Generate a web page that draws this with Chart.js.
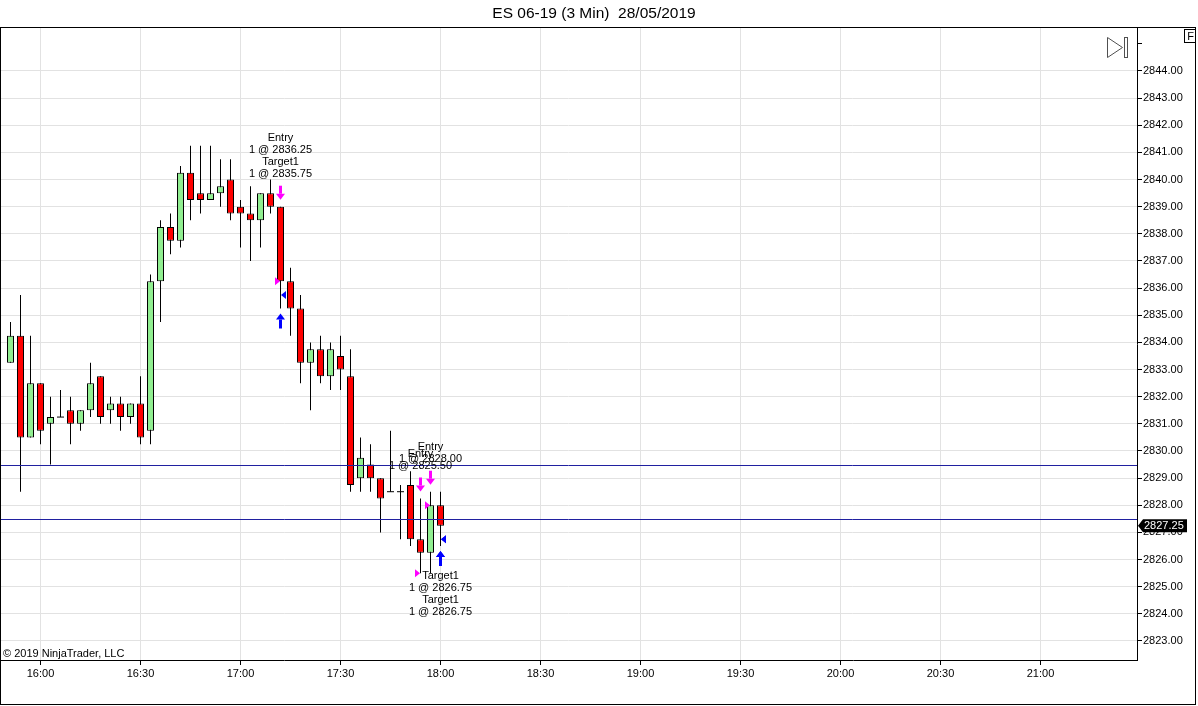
<!DOCTYPE html>
<html>
<head>
<meta charset="utf-8">
<title>ES 06-19 (3 Min) 28/05/2019</title>
<script src="https://cdn.jsdelivr.net/npm/chart.js@4.4.1/dist/chart.umd.min.js"></script>
<style>
  html, body { margin: 0; padding: 0; background: #fff; }
  canvas { display: block; }
</style>
</head>
<body>
<canvas id="grafico" width="1198" height="706"></canvas>
<script>
// barras de 3 minutos (horario de fechamento)
const horarios = [
  "15:51", "15:54", "15:57", "16:00", "16:03", "16:06", "16:09", "16:12", "16:15", "16:18", "16:21",
  "16:24", "16:27", "16:30", "16:33", "16:36", "16:39", "16:42", "16:45", "16:48", "16:51", "16:54",
  "16:57", "17:00", "17:03", "17:06", "17:09", "17:12", "17:15", "17:18", "17:21", "17:24", "17:27",
  "17:30", "17:33", "17:36", "17:39", "17:42", "17:45", "17:48", "17:51", "17:54", "17:57", "18:00",
];
const aberturas = [
  2833.25, 2834.25, 2830.5, 2832.5, 2831, 2831.25, 2831.5, 2831, 2831.5, 2832.75, 2831.5,
  2831.75, 2831.25, 2831.75, 2830.75, 2836.25, 2838.25, 2837.75, 2840.25, 2839.5, 2839.25, 2839.5,
  2840, 2839, 2838.75, 2838.5, 2839.5, 2839, 2836.25, 2835.25, 2833.25, 2833.75, 2832.75,
  2833.5, 2832.75, 2829, 2829.5, 2829, 2828.5, 2828.5, 2828.75, 2826.75, 2826.25, 2828,
];
const maximas = [
  2834.75, 2835.75, 2834.25, 2832.5, 2832, 2832.25, 2832, 2831.5, 2833.25, 2832.75, 2832,
  2832, 2831.75, 2832.75, 2836.5, 2838.5, 2838.75, 2840.5, 2841.25, 2841.25, 2841.25, 2840.75,
  2840.75, 2839.25, 2839.75, 2839.5, 2840, 2839, 2836.75, 2835.75, 2834, 2834.25, 2834,
  2834.25, 2833.75, 2830.5, 2830.25, 2829, 2830.75, 2828.75, 2829.25, 2828.25, 2828.5, 2828.5,
];
const minimas = [
  2833.25, 2828.5, 2830.5, 2830.25, 2829.5, 2831.25, 2830.25, 2830.75, 2831.25, 2831, 2831,
  2830.75, 2831, 2830.25, 2830.25, 2834.75, 2837.25, 2837.5, 2838.5, 2838.75, 2839.25, 2839,
  2838.5, 2837.5, 2837, 2837.5, 2838.75, 2835.25, 2834.25, 2832.5, 2831.5, 2832.5, 2832.25,
  2832.25, 2828.5, 2828.5, 2828.5, 2827, 2828.5, 2826.75, 2826.5, 2825.5, 2825.5, 2826.5,
];
const fechamentos = [
  2834.25, 2830.5, 2832.5, 2830.75, 2831.25, 2831.25, 2831, 2831.5, 2832.5, 2831.25, 2831.75,
  2831.25, 2831.75, 2830.5, 2836.25, 2838.25, 2837.75, 2840.25, 2839.25, 2839.25, 2839.5, 2839.75,
  2838.75, 2838.75, 2838.5, 2839.5, 2839, 2836.25, 2835.25, 2833.25, 2833.75, 2832.75, 2833.75,
  2833, 2828.75, 2829.75, 2829, 2828.25, 2828.5, 2828.5, 2826.75, 2826.25, 2828, 2827.25,
];

const rotulosX = ["16:00", "16:30", "17:00", "17:30", "18:00", "18:30", "19:00", "19:30", "20:00", "20:30", "21:00"];
const niveis = [2829.5, 2827.5];

// execucoes
const execHorarios = ["17:12", "17:12", "17:54", "17:57", "18:00", "18:00"];
const execPrecos = [2836.25, 2835.75, 2825.5, 2828.0, 2826.75, 2826.75];
const execLados = ["sell", "buy", "sell", "sell", "buy", "buy"];
const execNomes = ["Entry", "Target1", "Entry", "Entry", "Target1", "Target1"];
const execQtd = [1, 1, 1, 1, 1, 1];

const fonte = "'Liberation Sans', Arial, sans-serif";
Chart.defaults.font.family = fonte;

const toMin = (s) => {
  const [h, m] = s.split(":").map(Number);
  return h * 60 + m;
};
const fmtHora = (v) => {
  const h = Math.floor(v / 60);
  const m = Math.round(v % 60);
  return String(h).padStart(2, "0") + ":" + String(m).padStart(2, "0");
};

const pavios = [];
const corpos = [];
const coresCorpo = [];
const dojis = [];
horarios.forEach((t, i) => {
  const x = toMin(t);
  pavios.push({ x, y: [minimas[i], maximas[i]] });
  if (aberturas[i] === fechamentos[i]) {
    dojis.push({ x, y: aberturas[i] });
  } else {
    corpos.push({ x, y: [aberturas[i], fechamentos[i]] });
    coresCorpo.push(fechamentos[i] > aberturas[i] ? "#90ee90" : "#ff0000");
  }
});

const pxPorMin = 10 / 3;
const xMin = 947.85;
const xMax = xMin + 1137 / pxPorMin;

const marcacoes = {
  id: "marcacoes",
  afterDatasetsDraw(chart) {
    const { ctx, chartArea, scales } = chart;
    const xs = scales.x;
    const ys = scales.y;
    ctx.save();
    ctx.beginPath();
    ctx.rect(chartArea.left, chartArea.top, chartArea.right - chartArea.left, chartArea.bottom - chartArea.top);
    ctx.clip();

    // linhas horizontais
    ctx.strokeStyle = "#2020a0";
    ctx.lineWidth = 1;
    niveis.forEach((n) => {
      const y = Math.round(ys.getPixelForValue(n)) + 0.5;
      ctx.beginPath();
      ctx.moveTo(chartArea.left, y);
      ctx.lineTo(chartArea.right, y);
      ctx.stroke();
    });

    // setas e triangulos
    execHorarios.forEach((t, i) => {
      const k = horarios.indexOf(t);
      const cx = xs.getPixelForValue(toMin(t));
      const yp = ys.getPixelForValue(execPrecos[i]);
      const venda = execLados[i] === "sell";
      ctx.fillStyle = venda ? "#ff00ff" : "#0000ff";

      ctx.beginPath();
      if (execNomes[i] === "Entry") {
        ctx.moveTo(cx - 5.5, yp - 4);
        ctx.lineTo(cx - 5.5, yp + 4);
        ctx.lineTo(cx - 0.5, yp);
      } else {
        ctx.moveTo(cx + 5.5, yp - 4);
        ctx.lineTo(cx + 5.5, yp + 4);
        ctx.lineTo(cx + 0.5, yp);
      }
      ctx.closePath();
      ctx.fill();

      if (venda) {
        const topo = ys.getPixelForValue(maximas[k]) - 21;
        ctx.fillRect(cx - 1.5, topo, 3, 8);
        ctx.beginPath();
        ctx.moveTo(cx - 4.5, topo + 8);
        ctx.lineTo(cx + 4.5, topo + 8);
        ctx.lineTo(cx, topo + 14);
        ctx.closePath();
        ctx.fill();
      } else {
        const topo = ys.getPixelForValue(minimas[k]) + 5;
        ctx.beginPath();
        ctx.moveTo(cx, topo);
        ctx.lineTo(cx - 4.5, topo + 6);
        ctx.lineTo(cx + 4.5, topo + 6);
        ctx.closePath();
        ctx.fill();
        ctx.fillRect(cx - 1.5, topo + 6, 3, 9);
      }
    });

    // textos agrupados por barra
    const grupos = {};
    execHorarios.forEach((t, i) => {
      (grupos[t] = grupos[t] || []).push(i);
    });
    ctx.fillStyle = "#000";
    ctx.font = "11px " + fonte;
    ctx.textAlign = "center";
    ctx.textBaseline = "middle";
    Object.keys(grupos).forEach((t) => {
      const k = horarios.indexOf(t);
      const cx = xs.getPixelForValue(toMin(t));
      const linhas = [];
      grupos[t].forEach((i) => {
        linhas.push(execNomes[i]);
        linhas.push(execQtd[i] + " @ " + execPrecos[i].toFixed(2));
      });
      let y0;
      if (execLados[grupos[t][0]] === "sell") {
        y0 = ys.getPixelForValue(maximas[k]) - 33 - 12 * (linhas.length - 1);
      } else {
        y0 = ys.getPixelForValue(minimas[k]) + 30;
      }
      linhas.forEach((l, j) => ctx.fillText(l, cx, y0 + 12 * j));
    });
    ctx.restore();
  },
  afterDraw(chart) {
    const { ctx, scales } = chart;
    ctx.save();

    // titulo
    ctx.fillStyle = "#000";
    ctx.font = "15.5px " + fonte;
    ctx.textAlign = "center";
    ctx.textBaseline = "middle";
    ctx.fillText("ES 06-19 (3 Min)  28/05/2019", 594, 14);

    // moldura
    ctx.strokeStyle = "#000";
    ctx.lineWidth = 1;
    ctx.strokeRect(0.5, 27.5, 1195, 677);

    // copyright
    ctx.font = "11px " + fonte;
    ctx.textAlign = "left";
    ctx.fillText("\u00a9 2019 NinjaTrader, LLC", 3, 654);

    // icone
    ctx.strokeStyle = "#505050";
    ctx.beginPath();
    ctx.moveTo(1107.5, 37.5);
    ctx.lineTo(1122.5, 47.5);
    ctx.lineTo(1107.5, 57.5);
    ctx.closePath();
    ctx.stroke();
    ctx.strokeRect(1124.5, 37.5, 3, 20);

    // caixa F
    ctx.strokeStyle = "#000";
    ctx.strokeRect(1184.5, 29.5, 11, 13);
    ctx.font = "11px " + fonte;
    ctx.textAlign = "center";
    ctx.fillText("F", 1190.5, 36.5);

    // preco atual
    const ultimo = fechamentos[fechamentos.length - 1];
    const yc = scales.y.getPixelForValue(ultimo);
    ctx.fillStyle = "#000";
    ctx.beginPath();
    ctx.moveTo(1138, yc);
    ctx.lineTo(1143, yc - 6.5);
    ctx.lineTo(1187, yc - 6.5);
    ctx.lineTo(1187, yc + 6.5);
    ctx.lineTo(1143, yc + 6.5);
    ctx.closePath();
    ctx.fill();
    ctx.fillStyle = "#fff";
    ctx.font = "11px " + fonte;
    ctx.textAlign = "left";
    ctx.fillText(ultimo.toFixed(2), 1144, yc);
    ctx.restore();
  },
};

const corGrade = "#e2e2e2";

const grafico = new Chart(document.getElementById("grafico"), {
  type: "bar",
  data: {
    datasets: [
      {
        data: pavios,
        backgroundColor: "#000",
        borderWidth: 0,
        barThickness: 1,
        inflateAmount: 0,
        grouped: false,
        order: 3,
      },
      {
        data: corpos,
        backgroundColor: coresCorpo,
        borderColor: "#000",
        borderWidth: 1,
        borderSkipped: false,
        barThickness: 7,
        inflateAmount: 0,
        grouped: false,
        order: 2,
      },
      {
        type: "line",
        data: dojis,
        showLine: false,
        pointStyle: "line",
        pointRadius: 3.5,
        pointHoverRadius: 3.5,
        pointBorderColor: "#000",
        pointBorderWidth: 1,
        order: 1,
      },
    ],
  },
  options: {
    responsive: false,
    animation: false,
    events: [],
    layout: { autoPadding: false, padding: { top: 28, left: 0, right: 0, bottom: 0 } },
    plugins: {
      legend: { display: false },
      tooltip: { enabled: false },
    },
    scales: {
      x: {
        type: "linear",
        min: xMin,
        max: xMax,
        offset: false,
        afterBuildTicks: (s) => {
          s.ticks = rotulosX.map((r) => ({ value: toMin(r) }));
        },
        afterFit: (s) => {
          s.height = 46;
          s.paddingLeft = 0;
          s.paddingRight = 0;
        },
        ticks: {
          autoSkip: false,
          maxRotation: 0,
          color: "#000",
          padding: 2,
          font: { size: 11 },
          callback: (v, i) => rotulosX[i] || fmtHora(v),
        },
        grid: { color: corGrade, tickColor: "#000", tickLength: 5, offset: false },
        border: { color: "#000" },
      },
      y: {
        position: "right",
        min: 2822.3,
        max: 2845.584,
        afterFit: (s) => {
          s.width = 61;
          s.paddingTop = 0;
          s.paddingBottom = 0;
        },
        ticks: {
          stepSize: 1,
          includeBounds: false,
          color: "#000",
          padding: 1,
          font: { size: 11 },
          callback: (v) => (v > 2844 ? "" : v.toFixed(2)),
        },
        grid: {
          color: (c) => (c.tick && c.tick.value > 2844 ? "rgba(0,0,0,0)" : corGrade),
          tickColor: "#000",
          tickLength: 5,
        },
        border: { color: "#000" },
      },
    },
  },
  plugins: [marcacoes],
});
</script>
</body>
</html>
